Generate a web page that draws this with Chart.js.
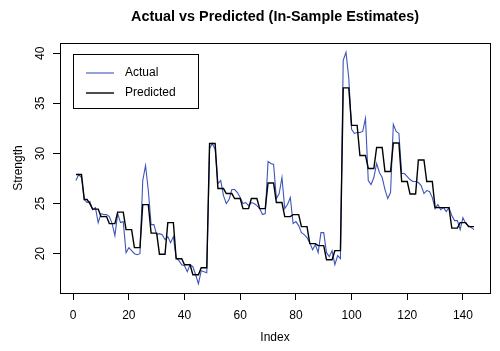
<!DOCTYPE html>
<html>
<head>
<meta charset="utf-8">
<script src="https://cdn.jsdelivr.net/npm/chart.js@4.4.1/dist/chart.umd.min.js"></script>
<style>
  html, body { margin: 0; padding: 0; background: #fff; }
</style>
</head>
<body>
<canvas id="fitChart" width="500" height="351"></canvas>
<script>
// Observed strength values (index 1..144)
const actual = [
    27.3, 27.9, 27.6, 25.4, 25.1, 25.2, 24.4, 24.6, 23.1, 24.0,
    23.9, 23.9, 23.7, 23.0, 21.8, 24.0, 23.1, 23.2, 20.1, 20.6,
    20.3, 20.0, 19.9, 20.0, 27.3, 28.8, 26.3, 22.9, 22.9, 21.9,
    22.0, 21.9, 21.4, 21.7, 21.1, 21.7, 19.6, 19.3, 18.9, 18.8,
    18.2, 18.9, 18.7, 17.9, 17.0, 18.3, 18.2, 18.1, 30.5, 31.0,
    30.4, 27.0, 27.3, 25.8, 25.0, 25.4, 26.4, 26.4, 26.1, 25.6,
    25.0, 25.1, 24.8, 25.1, 25.0, 24.8, 24.5, 23.9, 24.0, 29.2,
    29.0, 28.9, 25.5, 26.0, 27.6, 24.5, 24.9, 25.6, 23.0, 23.2,
    22.8, 22.1, 21.9, 21.6, 21.1, 20.4, 20.9, 20.1, 22.1, 22.1,
    20.1, 19.7, 20.3, 18.9, 19.8, 19.5, 39.3, 40.1, 37.5, 32.4,
    32.0, 32.1, 32.1, 32.2, 33.5, 27.3, 26.9, 27.6, 29.0, 28.1,
    27.6, 26.4, 25.5, 26.1, 32.9, 32.2, 32.0, 28.0, 28.0, 27.7,
    27.4, 27.2, 27.2, 27.1, 26.8, 26.0, 26.3, 26.2, 25.6, 24.5,
    24.9, 24.4, 24.6, 24.2, 24.6, 23.8, 23.3, 23.3, 22.4, 23.6,
    23.0, 22.8, 22.6, 22.4
];

// In-sample fitted values
const predicted = [
    27.9, 27.9, 27.9, 25.4, 25.4, 25.0, 24.45, 24.45, 24.45, 23.7,
    23.7, 23.7, 23.0, 23.0, 23.0, 24.15, 24.15, 24.15, 22.4, 22.4,
    22.4, 20.6, 20.6, 20.6, 24.9, 24.9, 24.9, 22.05, 22.05, 22.05,
    19.95, 19.95, 19.95, 23.1, 23.1, 23.1, 19.5, 19.5, 19.5, 18.9,
    18.9, 18.9, 17.9, 17.9, 17.9, 18.6, 18.6, 18.6, 31.0, 31.0,
    31.0, 26.5, 26.5, 26.5, 26.0, 26.0, 26.0, 25.5, 25.5, 25.5,
    24.5, 24.5, 24.5, 25.5, 25.5, 25.5, 24.5, 24.5, 24.5, 27.05,
    27.05, 27.05, 25.1, 25.1, 25.1, 23.7, 23.7, 23.7, 23.9, 23.9,
    23.9, 22.7, 22.7, 22.7, 21.0, 21.0, 21.0, 20.8, 20.8, 20.8,
    19.4, 19.4, 19.4, 20.3, 20.3, 20.3, 36.55, 36.55, 36.55, 32.8,
    32.8, 32.8, 29.8, 29.8, 29.8, 28.5, 28.5, 28.5, 30.6, 30.6,
    30.6, 28.2, 28.2, 28.2, 31.05, 31.05, 31.05, 27.2, 27.2, 27.2,
    25.95, 25.95, 25.95, 29.35, 29.35, 29.35, 27.2, 27.2, 27.2, 24.6,
    24.6, 24.6, 24.6, 24.6, 24.6, 22.55, 22.55, 22.55, 23.1, 23.1,
    23.1, 22.7, 22.7, 22.7
];

const xTicks = [0, 20, 40, 60, 80, 100, 120, 140];
const yTicks = [20, 25, 30, 35, 40];

const FONT = '"Liberation Sans", Arial, Helvetica, sans-serif';
const BLUE = 'rgb(62, 86, 186)';

const index = actual.map((_, i) => i + 1);

// R-style axis ranges: data range widened by 4% on each side
function rRange(values) {
    const lo = Math.min(...values), hi = Math.max(...values);
    const pad = (hi - lo) * 0.04;
    return [lo - pad, hi + pad];
}
const [xMin, xMax] = rRange(index);
const [yMin, yMax] = rRange(actual.concat(predicted));

// Box, title, rotated y labels and legend drawn like base R graphics
const rStyle = {
    id: 'rStyle',
    afterDraw(chart) {
        const ctx = chart.ctx;
        const a = chart.chartArea;
        ctx.save();
        ctx.strokeStyle = '#000';
        ctx.lineWidth = 1;
        ctx.strokeRect(Math.round(a.left) + 0.5, Math.round(a.top) + 0.5,
            Math.round(a.right - a.left), Math.round(a.bottom - a.top));

        // title
        ctx.fillStyle = '#000';
        ctx.font = 'bold 14.4px ' + FONT;
        ctx.textAlign = 'center';
        ctx.textBaseline = 'middle';
        ctx.fillText('Actual vs Predicted (In-Sample Estimates)', (a.left + a.right) / 2, 17);

        // y tick labels, parallel to the axis
        const ys = chart.scales.y;
        ctx.font = '12px ' + FONT;
        ys.ticks.forEach(t => {
            ctx.save();
            ctx.translate(41, ys.getPixelForValue(t.value));
            ctx.rotate(-Math.PI / 2);
            ctx.fillText(String(t.value), 0, 0);
            ctx.restore();
        });

        // legend
        const lx = 73, ly = 54, lw = 125, lh = 54;
        ctx.strokeRect(lx + 0.5, ly + 0.5, lw, lh);
        ctx.textAlign = 'left';
        ctx.font = '12px ' + FONT;
        const items = chart.data.datasets.slice().sort((p, q) => p.legendPos - q.legendPos);
        items.forEach((ds, k) => {
            const y = ly + 19 + k * 20;
            ctx.strokeStyle = ds.borderColor;
            ctx.lineWidth = ds.borderWidth;
            ctx.beginPath();
            ctx.moveTo(lx + 13, y);
            ctx.lineTo(lx + 41, y);
            ctx.stroke();
            ctx.fillStyle = '#000';
            ctx.fillText(ds.label, lx + 52, y);
        });
        ctx.restore();
    }
};

function initChart() {
    const ctx = document.getElementById('fitChart').getContext('2d');
    new Chart(ctx, {
        type: 'line',
        data: {
            datasets: [{
                label: 'Actual',
                data: index.map((x, i) => ({ x: x, y: actual[i] })),
                borderColor: BLUE,
                borderWidth: 1.1,
                pointRadius: 0,
                tension: 0,
                order: 1,
                legendPos: 0
            }, {
                label: 'Predicted',
                data: index.map((x, i) => ({ x: x, y: predicted[i] })),
                borderColor: '#000',
                borderWidth: 1.4,
                pointRadius: 0,
                tension: 0,
                order: 0,
                legendPos: 1
            }]
        },
        options: {
            responsive: false,
            animation: false,
            devicePixelRatio: 1,
            layout: { padding: { top: 43, right: 10, left: 0, bottom: 0 } },
            plugins: {
                legend: { display: false },
                title: { display: false },
                tooltip: { enabled: false }
            },
            scales: {
                x: {
                    type: 'linear',
                    min: xMin,
                    max: xMax,
                    afterBuildTicks: axis => { axis.ticks = xTicks.map(v => ({ value: v })); },
                    afterFit: axis => { axis.height = 58; },
                    grid: { display: true, drawOnChartArea: false, drawTicks: true, tickLength: 7, color: '#000' },
                    border: { display: false },
                    ticks: { color: '#000', padding: 8, maxRotation: 0, font: { family: FONT, size: 12 } },
                    title: { display: true, text: 'Index', color: '#000', padding: 6, font: { family: FONT, size: 12 } }
                },
                y: {
                    type: 'linear',
                    min: yMin,
                    max: yMax,
                    afterBuildTicks: axis => { axis.ticks = yTicks.map(v => ({ value: v })); },
                    afterFit: axis => { axis.width = 60; },
                    grid: { display: true, drawOnChartArea: false, drawTicks: true, tickLength: 7, color: '#000' },
                    border: { display: false },
                    ticks: { display: false },
                    title: { display: true, text: 'Strength', color: '#000', padding: 11, font: { family: FONT, size: 12 } }
                }
            }
        },
        plugins: [rStyle]
    });
}

document.addEventListener('DOMContentLoaded', initChart);
</script>
</body>
</html>
